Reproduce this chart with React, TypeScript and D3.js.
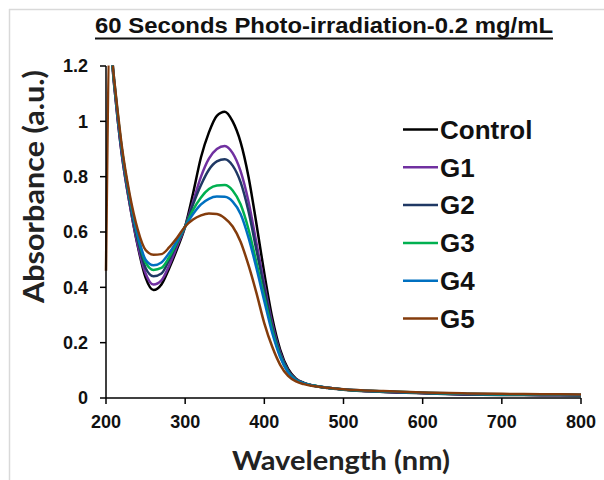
import React from "react";
import * as d3 from "d3";

const wavelengths = [200, 205, 210, 215, 220, 230, 240, 250, 260, 270, 280, 290, 300, 310, 320, 330, 340, 350, 360, 370, 380, 390, 400, 410, 420, 430, 440, 450, 460, 480, 500, 550, 600, 650, 700, 750, 800];

const controlValues = [1.35, 1.3, 1.14, 1.0, 0.88, 0.7, 0.55, 0.435, 0.39, 0.41, 0.47, 0.54, 0.62, 0.74, 0.87, 0.96, 1.02, 1.035, 1.0, 0.925, 0.8, 0.63, 0.45, 0.29, 0.175, 0.105, 0.07, 0.055, 0.046, 0.036, 0.03, 0.022, 0.017, 0.013, 0.011, 0.01, 0.009];
const g1Values = [1.35, 1.3, 1.14, 1.0, 0.88, 0.7, 0.555, 0.45, 0.41, 0.425, 0.48, 0.55, 0.62, 0.71, 0.8, 0.865, 0.9, 0.911, 0.885, 0.82, 0.71, 0.56, 0.41, 0.27, 0.165, 0.1, 0.068, 0.054, 0.046, 0.037, 0.031, 0.023, 0.018, 0.014, 0.012, 0.011, 0.01];
const g2Values = [1.35, 1.3, 1.15, 1.01, 0.89, 0.71, 0.57, 0.47, 0.44, 0.45, 0.5, 0.56, 0.62, 0.7, 0.77, 0.825, 0.855, 0.863, 0.84, 0.78, 0.675, 0.535, 0.395, 0.26, 0.16, 0.098, 0.067, 0.054, 0.046, 0.037, 0.031, 0.023, 0.018, 0.014, 0.012, 0.011, 0.01];
const g3Values = [1.35, 1.3, 1.15, 1.02, 0.9, 0.72, 0.585, 0.49, 0.463, 0.47, 0.51, 0.565, 0.62, 0.68, 0.725, 0.755, 0.768, 0.77, 0.75, 0.7, 0.61, 0.49, 0.365, 0.245, 0.152, 0.094, 0.065, 0.053, 0.046, 0.037, 0.031, 0.024, 0.019, 0.015, 0.013, 0.012, 0.011];
const g4Values = [1.35, 1.3, 1.16, 1.02, 0.9, 0.725, 0.59, 0.5, 0.48, 0.49, 0.525, 0.57, 0.62, 0.665, 0.7, 0.72, 0.728, 0.727, 0.71, 0.665, 0.58, 0.47, 0.35, 0.235, 0.148, 0.092, 0.064, 0.053, 0.046, 0.037, 0.032, 0.024, 0.019, 0.016, 0.014, 0.013, 0.012];
const g5Values = [0.46, 1.3, 1.16, 1.03, 0.91, 0.735, 0.61, 0.535, 0.518, 0.52, 0.545, 0.58, 0.62, 0.645, 0.66, 0.667, 0.665, 0.65, 0.62, 0.565, 0.48, 0.38, 0.27, 0.185, 0.12, 0.08, 0.06, 0.05, 0.044, 0.037, 0.032, 0.025, 0.02, 0.017, 0.015, 0.014, 0.013];

const seriesNames = ["Control", "G1", "G2", "G3", "G4", "G5"];
const seriesColors = ["#000000", "#7030A0", "#1F3864", "#00B050", "#0070C0", "#843C0C"];
const seriesValues = [controlValues, g1Values, g2Values, g3Values, g4Values, g5Values];

const xTicks = [200, 300, 400, 500, 600, 700, 800];
const yTicks = [0, 0.2, 0.4, 0.6, 0.8, 1, 1.2];

const titleText = "60 Seconds Photo-irradiation-0.2 mg/mL";
const xTitle = "Wavelength (nm)";
const yTitle = "Absorbance (a.u.)";

export default function App() {
  const W = 604;
  const H = 480;
  const left = 106;
  const right = 581;
  const top = 66;
  const bottom = 398;

  const x = d3.scaleLinear().domain([200, 800]).range([left, right]);
  const y = d3.scaleLinear().domain([0, 1.2]).range([bottom, top]);

  const line = d3
    .line<[number, number]>()
    .x((d) => x(d[0]))
    .y((d) => y(d[1]))
    .curve(d3.curveMonotoneX);

  const legendX = 403;
  const legendY0 = 129.5;
  const legendStep = 37.8;

  const arial = "'Liberation Sans', Arial, sans-serif";
  const calibriLike = "Lato, 'Open Sans', sans-serif";

  return (
    <svg
      width={W}
      height={H}
      style={{ position: "absolute", left: 0, top: 0, display: "block", background: "#fff" }}
    >
      <rect x={0} y={0} width={W} height={H} fill="#ffffff" />
      {/* outer frame lines */}
      <line x1={9} y1={9.5} x2={W} y2={9.5} stroke="#d9d9d9" strokeWidth={1.5} />
      <line x1={9.5} y1={9} x2={9.5} y2={H} stroke="#d9d9d9" strokeWidth={1.5} />

      {/* title */}
      <text
        x={324}
        y={33}
        textAnchor="middle"
        fontFamily={arial}
        fontWeight="bold"
        fontSize={22}
        fill="#111"
        textLength={458}
        lengthAdjust="spacingAndGlyphs"
      >
        {titleText}
      </text>
      <line x1={95} y1={38.5} x2={553} y2={38.5} stroke="#111" strokeWidth={2} />

      <defs>
        <clipPath id="plotClip">
          <rect x={left - 3} y={top - 0.5} width={right - left + 6} height={bottom - top + 3} />
        </clipPath>
      </defs>

      {/* series */}
      <g clipPath="url(#plotClip)">
        {seriesValues.map((vals, i) => (
          <path
            key={seriesNames[i]}
            d={line(wavelengths.map((w, j) => [w, vals[j]] as [number, number])) || ""}
            fill="none"
            stroke={seriesColors[i]}
            strokeWidth={2.5}
            strokeLinejoin="round"
          />
        ))}
      </g>

      {/* axes */}
      <line x1={left} y1={top} x2={left} y2={bottom} stroke="#000" strokeWidth={1.5} />
      <line x1={left} y1={bottom} x2={right} y2={bottom} stroke="#000" strokeWidth={1.5} />
      {yTicks.map((t) => (
        <g key={"y" + t}>
          <line x1={left - 6} y1={y(t)} x2={left} y2={y(t)} stroke="#000" strokeWidth={1.5} />
          <text
            x={88}
            y={y(t)}
            dy="0.35em"
            textAnchor="end"
            fontFamily={arial}
            fontWeight="bold"
            fontSize={18}
            fill="#111"
          >
            {String(t)}
          </text>
        </g>
      ))}
      {xTicks.map((t) => (
        <g key={"x" + t}>
          <line x1={x(t)} y1={bottom} x2={x(t)} y2={bottom + 6} stroke="#000" strokeWidth={1.5} />
          <text
            x={x(t)}
            y={428}
            textAnchor="middle"
            fontFamily={arial}
            fontWeight="bold"
            fontSize={18}
            fill="#111"
          >
            {String(t)}
          </text>
        </g>
      ))}

      {/* axis titles */}
      <text
        x={341}
        y={470}
        textAnchor="middle"
        fontFamily={calibriLike}
        fontWeight="bold"
        fontSize={27}
        fill="#222"
        textLength={218}
        lengthAdjust="spacingAndGlyphs"
      >
        {xTitle}
      </text>
      <text
        transform={`translate(44,186.5) rotate(-90)`}
        textAnchor="middle"
        fontFamily={calibriLike}
        fontWeight="bold"
        fontSize={28}
        fill="#222"
        textLength={233}
        lengthAdjust="spacingAndGlyphs"
      >
        {yTitle}
      </text>

      {/* legend */}
      {seriesNames.map((name, i) => (
        <g key={"lg" + name}>
          <line
            x1={legendX}
            y1={legendY0 + i * legendStep}
            x2={legendX + 35}
            y2={legendY0 + i * legendStep}
            stroke={seriesColors[i]}
            strokeWidth={2.5}
          />
          <text
            x={440}
            y={legendY0 + i * legendStep}
            dy="0.36em"
            fontFamily={arial}
            fontWeight="bold"
            fontSize={26}
            fill="#111"
          >
            {name}
          </text>
        </g>
      ))}
    </svg>
  );
}
